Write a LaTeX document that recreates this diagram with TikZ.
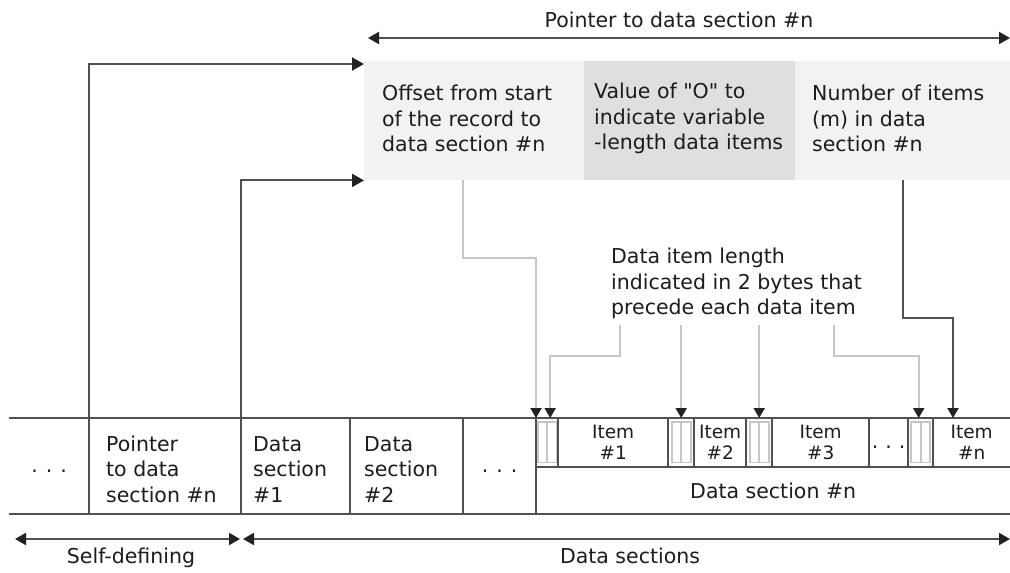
\documentclass[tikz,border=0pt]{standalone}
\usepackage{fontspec}
\setmainfont{DejaVu Sans}[Ligatures=TeXOff]
\usetikzlibrary{arrows.meta,calc}
\definecolor{linec}{HTML}{505050}
\definecolor{lightc}{HTML}{C6C6C6}
\definecolor{textc}{HTML}{1C1C1C}
\definecolor{tipc}{HTML}{222222}
\definecolor{boxa}{HTML}{F2F2F2}
\definecolor{boxb}{HTML}{DFDFDF}
\begin{document}
\begin{tikzpicture}[x=1pt,y=-1pt,
  txt/.style={text=textc, font=\fontsize{20.5}{25.5}\selectfont, inner sep=0pt},
  itxt/.style={text=textc, font=\fontsize{18.5}{21}\selectfont, inner sep=0pt, align=center},
  cellbig/.style={inner sep=0pt, anchor=north west, minimum height=96pt},
  celltop/.style={inner sep=0pt, anchor=north west, minimum height=49pt, itxt},
  infobox/.style={inner sep=0pt, anchor=north west, minimum height=119pt},
  dotcell/.style={txt, text height=12pt, text depth=0pt},
  grid/.style={draw=linec, line width=2pt},
  thin/.style={draw=lightc, line width=2pt},
  bigtip/.style={-{Triangle[width=13pt,length=12pt,color=tipc]}},
  smalltip/.style={-{Triangle[width=11pt,length=10pt,color=tipc]}},
  dbl/.style={{Triangle[width=12pt,length=11pt,color=tipc]}-{Triangle[width=12pt,length=11pt,color=tipc]}},
  lenbar/.style={draw=lightc, line width=1.8pt}
]
\useasboundingbox (0,0) rectangle (1010,573);

% ---- info boxes (pointer contents)
\node[infobox, fill=boxa, minimum width=220pt] (off) at (364,61) {};
\node[infobox, fill=boxb, minimum width=211pt] (val) at (584,61) {};
\node[infobox, fill=boxa, minimum width=215pt] (num) at (795,61) {};
\node[txt, align=left, anchor=west, yshift=2pt] (offT) at ($(off.west)+(18,0)$) {Offset from start\\of the record to\\data section \#n};
\node[txt, align=left, anchor=west, yshift=2pt] (valT) at ($(val.west)+(10,0)$) {Value of "O" to\\indicate variable\\-length data items};
\node[txt, align=left, anchor=west, yshift=2pt] (numT) at ($(num.west)+(17,0)$) {Number of items\\(m) in data\\section \#n};

% ---- pointer dimension
\coordinate (pl) at (368,38);
\coordinate (pr) at (1010,38);
\draw[grid, dbl] (pl) -- (pr);
\node[txt, anchor=base] (ptrlbl) at (679,27) {Pointer to data section \#n};

% ---- record row
\node[cellbig, minimum width=80pt, dotcell] (c0) at (9,418) {.\kern8pt.\kern8pt.};
\node[cellbig, minimum width=152pt] (ptr) at (89,418) {};
\node[cellbig, minimum width=109pt] (ds1) at (241,418) {};
\node[cellbig, minimum width=113pt] (ds2) at (350,418) {};
\node[cellbig, minimum width=73pt, dotcell] (dots2) at (463,418) {.\kern8pt.\kern8pt.};

\node[celltop, minimum width=22pt] (lb1) at (536,418) {};
\node[celltop, minimum width=110pt] (it1) at (558,418) {Item\\\#1};
\node[celltop, minimum width=26pt] (lb2) at (668,418) {};
\node[celltop, minimum width=52pt] (it2) at (694,418) {Item\\\#2};
\node[celltop, minimum width=26pt] (lb3) at (746,418) {};
\node[celltop, minimum width=97pt] (it3) at (772,418) {Item\\\#3};
\node[celltop, minimum width=39pt, dotcell] (dots3) at (869,418) {.\kern7pt.\kern7pt.};
\node[celltop, minimum width=25pt] (lbn) at (908,418) {};
\node[celltop, minimum width=77pt] (itn) at (933,418) {Item\\\#n};
\node[inner sep=0pt, anchor=north west, minimum width=474pt, minimum height=47pt, txt] (dsn) at (536,467) {Data section \#n};

\node[txt, align=left, anchor=west, yshift=-3pt] (ptrT) at ($(ptr.west)+(17,0)$) {Pointer\\to data\\section \#n};
\node[txt, align=left, anchor=west, yshift=-3pt] (ds1T) at ($(ds1.west)+(12,0)$) {Data\\section\\\#1};
\node[txt, align=left, anchor=west, yshift=-3pt] (ds2T) at ($(ds2.west)+(14,0)$) {Data\\section\\\#2};

% length-byte markers
\foreach \n in {lb1,lb2,lb3,lbn}{
  \draw[lenbar] ($(\n.north)+(-9.5,4)$) rectangle ($(\n.south)+(0,-5)$);
  \draw[lenbar] ($(\n.north)+(0,4)$) rectangle ($(\n.south)+(9.5,-5)$);
}

% grid lines
\draw[grid] (c0.north west) -- (itn.north east);
\draw[grid] (c0.south west) -- (dsn.south east);
\draw[grid] (dsn.north west) -- (dsn.north east);
\draw[grid] (ds2.north west) -- (ds2.south west);
\draw[grid] (dots2.north west) -- (dots2.south west);
\draw[grid] (lb1.north west) -- (dsn.south west);
\foreach \n in {lb1,it1,lb2,it2,lb3,it3,dots3,lbn}{
  \draw[grid] (\n.north east) -- (\n.south east);
}

% pointers from the record to the pointer contents
\draw[grid, bigtip] (ptr.south west) |- ($(off.north west)+(0,3)$);
\draw[grid, bigtip] (ds1.south west) |- (off.south west);

% offset -> start of data section
\draw[thin, smalltip] (off.south -| dots2.west) -- ++(0,78) -| (lb1.north west);

% data item length label and its connectors
\node[txt, align=left, anchor=north west] (len) at (611,248) {Data item length\\indicated in 2 bytes that\\precede each data item};
\coordinate (lenb) at ($(len.south west)+(0,6)$);
\draw[thin, smalltip] ($(lenb)+(9,0)$) -- ++(0,31) -| ($(lb1.north)+(3,0)$);
\draw[thin, smalltip] (lb2.north |- lenb) -- (lb2.north);
\draw[thin, smalltip] (lb3.north |- lenb) -- (lb3.north);
\draw[thin, smalltip] ($(lenb)+(223,0)$) -- ++(0,31) -| ($(lbn.north)+(-2,0)$);

% number of items -> last item
\draw[grid, smalltip] (num.south) -- ++(0,138) -| ($(itn.north west)+(20,0)$);

% bottom dimensions
\coordinate (sdL) at (15,539);
\coordinate (sdR) at (240,539);
\coordinate (dsL) at (243,539);
\coordinate (dsR) at (1010,539);
\draw[grid, dbl] (sdL) -- (sdR);
\draw[grid, dbl] (dsL) -- (dsR);
\node[txt, anchor=base] (sdT) at (131,563) {Self-defining};
\node[txt, anchor=base] (dsT) at (630,563) {Data sections};
\end{tikzpicture}
\end{document}
